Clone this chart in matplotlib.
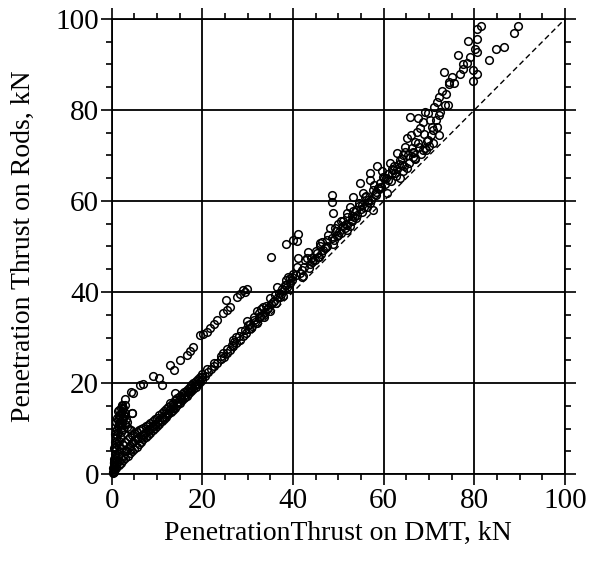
import matplotlib
matplotlib.use("Agg")
import matplotlib.pyplot as plt
from matplotlib.ticker import MultipleLocator

plt.rcParams['font.family'] = ['Liberation Serif', 'DejaVu Serif']

# ---- data ----
# near-origin vertical cluster
cluster_x = [0.3, 0.5, 0.4, 0.6, 0.5, 0.8, 0.7, 0.9, 0.8, 1.0, 1.1, 0.9, 1.2, 1.3, 1.1, 1.4, 1.5, 1.3,
             1.6, 1.8, 2.0, 2.2, 2.4, 2.6, 1.0, 1.2, 1.4, 1.6, 1.5, 1.7, 1.9, 2.0, 2.1, 2.3, 2.5, 2.8,
             3.0, 0.2, 0.3, 0.6, 1.8, 2.2, 0.7, 0.9, 1.0, 1.5, 2.0, 2.7, 3.1, 3.3, 4.5, 3.0, 2.3,
             0.4, 0.6, 0.8, 1.1, 1.3, 1.7, 2.4, 2.9, 3.4, 3.8, 4.2]
cluster_y = [0.5, 1.0, 1.8, 2.5, 3.2, 3.8, 4.5, 5.2, 6.0, 6.6, 7.3, 8.0, 8.6, 9.3, 10.0, 10.6, 11.2, 11.8,
             12.3, 12.8, 13.3, 13.8, 14.2, 14.6, 2.0, 3.0, 4.0, 5.0, 6.2, 7.2, 8.2, 9.2, 10.2, 11.2, 12.2, 12.8,
             13.5, 0.2, 1.4, 0.4, 10.8, 12.0, 7.0, 9.5, 11.5, 13.0, 14.5, 13.0, 12.0, 11.5, 13.3, 15.2, 15.0,
             2.6, 5.8, 8.8, 12.4, 13.9, 14.0, 9.8, 11.0, 10.4, 9.8, 9.6]

# lower (main) branch, 0-20 kN
low_x = [0.5, 1.0, 1.5, 2.0, 2.5, 3.0, 3.5, 4.0, 4.5, 5.0, 5.5, 6.0, 6.5, 7.0, 7.5, 8.0, 8.5, 9.0, 9.5, 10.0,
         10.5, 11.0, 11.5, 12.0, 12.5, 13.0, 13.5, 14.0, 14.5, 15.0, 15.5, 16.0, 16.5, 17.0, 17.5, 18.0,
         18.5, 19.0, 19.5, 20.0,
         0.5, 1.0, 1.5, 2.0, 2.5, 3.0, 3.5, 4.0, 4.5, 5.0, 5.5, 6.0, 6.5, 7.0, 7.5, 8.0, 8.5, 9.0, 9.5, 10.0,
         10.5, 11.0, 11.5, 12.0, 12.5, 13.0, 13.5, 14.0, 14.5, 15.0, 15.5, 16.0, 16.5, 17.0, 17.5, 18.0,
         18.5, 19.0, 19.5, 20.0,
         3.2, 3.8, 4.4, 5.2, 5.8, 6.6, 7.4, 8.2, 9.1, 10.2, 11.3, 12.4, 13.6, 14.8, 16.1, 17.3, 18.6,
         0.8, 1.6, 2.4, 3.2, 4.0, 4.8, 5.6, 6.4, 7.2, 8.0, 8.8, 9.6, 10.4, 11.2, 12.0, 12.8, 13.6, 14.4,
         15.2, 16.0, 16.8, 17.6, 18.4, 19.2, 20.0]
low_y = [0.7, 1.3, 1.9, 2.4, 3.0, 3.5, 4.0, 4.6, 5.0, 5.6, 6.0, 6.6, 7.1, 7.6, 8.1, 8.6, 9.1, 9.6, 10.1, 10.6,
         11.1, 11.6, 12.1, 12.6, 13.1, 13.6, 14.1, 14.6, 15.1, 15.6, 16.2, 16.7, 17.2, 17.7, 18.2, 18.7,
         19.2, 19.7, 20.2, 20.7,
         2.5, 3.5, 4.5, 5.5, 6.3, 7.0, 7.6, 8.2, 8.6, 9.0, 9.3, 9.6, 9.9, 10.2, 10.5, 10.8, 11.2, 11.6, 12.0, 12.4,
         12.9, 13.4, 13.8, 14.3, 14.8, 15.2, 15.7, 16.2, 16.6, 17.1, 17.6, 18.0, 18.5, 19.0, 19.5, 20.0,
         20.4, 20.9, 21.4, 21.9,
         5.0, 6.0, 6.8, 7.4, 8.0, 8.6, 9.0, 9.8, 10.5, 11.4, 12.4, 13.5, 14.6, 15.8, 17.0, 18.2, 19.5,
         1.8, 2.8, 4.2, 5.2, 6.2, 7.0, 7.6, 8.2, 8.9, 9.6, 10.3, 11.0, 11.8, 12.6, 13.4, 14.2, 15.0, 15.8,
         16.6, 17.4, 18.2, 19.0, 19.8, 20.6, 21.4]

# lower (main) branch, 20-40 kN
mid_x = [20.5, 21.2, 21.9, 22.6, 23.3, 24.0, 24.7, 25.4, 26.1, 26.8, 27.5, 28.2, 28.9, 29.6, 30.3, 31.0,
         31.7, 32.4, 33.1, 33.8, 34.5, 35.2, 35.9, 36.6, 37.3, 38.0, 38.7, 39.4,
         21.0, 22.5, 24.0, 25.5, 27.0, 28.0, 28.5, 29.5, 30.5, 31.5, 32.5, 33.0, 34.0, 35.0, 36.0, 36.5,
         37.5, 38.5, 39.0, 40.0, 24.5, 26.5, 30.0, 27.5, 32.0, 33.4, 37.1, 26.8, 29.8,
         30.8, 31.4, 32.1, 32.8, 33.5, 34.2, 34.9, 35.6, 36.3, 37.0, 37.7, 38.4, 39.1, 39.7]
mid_y = [21.6, 22.4, 23.0, 23.8, 24.5, 25.2, 25.8, 26.6, 27.3, 28.1, 28.8, 29.5, 30.3, 31.0, 31.8, 32.6,
         33.4, 34.2, 35.0, 35.7, 36.4, 37.3, 38.0, 38.9, 39.6, 40.4, 41.1, 41.9,
         23.0, 24.4, 25.9, 27.4, 29.0, 30.4, 31.4, 31.6, 33.0, 34.6, 35.4, 36.2, 37.0, 38.6, 39.4, 41.0,
         40.6, 42.6, 43.4, 44.0, 26.7, 28.4, 32.8, 30.2, 35.9, 36.8, 39.0, 29.5, 33.6,
         32.0, 33.8, 33.2, 34.8, 34.6, 36.2, 35.8, 37.8, 37.6, 39.8, 39.2, 41.6, 40.6, 43.4]

# upper branch (0-30 kN)
up_x = [2.3, 3.0, 4.8, 4.2, 6.2, 6.8, 4.5, 9.2, 10.5, 11.2, 12.9, 13.7, 15.1, 16.5, 18.0, 19.5, 20.2,
        21.7, 23.2, 24.6, 26.1, 27.6, 29.0, 29.8, 25.2, 14.0, 12.9, 17.2, 22.5, 28.3, 29.4, 21.0, 25.5]
up_y = [15.2, 16.5, 17.7, 18.1, 19.6, 19.8, 13.3, 21.6, 21.0, 19.6, 24.0, 22.9, 25.0, 26.2, 28.0, 30.5, 30.8,
        32.0, 33.8, 35.3, 36.8, 39.0, 40.4, 40.6, 38.2, 17.7, 15.5, 27.0, 33.0, 39.6, 40.0, 31.2, 36.0]

# 35-72 kN region
hi_x = [35.1, 38.5, 40.0, 41.1, 40.8, 48.5, 48.5, 48.9, 54.8, 57.0, 58.5, 62.9, 61.4, 59.2, 56.6, 55.2,
        53.3, 51.8, 52.9, 51.1, 48.2, 50.0, 47.4, 46.0, 45.2, 43.4, 42.6, 41.2, 40.8, 41.9, 39.3, 38.2,
        55.5, 57.7, 59.9, 60.7, 62.1, 63.6, 66.5, 68.7, 57.7, 54.0, 51.8, 46.7, 44.5,
        42.0, 43.8, 45.5, 47.0, 49.0, 50.5, 52.0, 53.5, 55.0, 56.5, 58.0, 59.5, 61.0, 62.5,
        44.0, 46.0, 49.5, 51.0, 53.0, 54.5, 56.0, 58.8, 60.0, 61.8, 64.5, 50.0, 52.5, 57.0,
        42.5, 43.0, 44.2, 45.0, 45.8, 46.5, 47.2, 47.8, 48.6, 49.2, 49.8, 50.6, 51.4, 52.0, 52.6, 53.2,
        53.9, 54.6, 55.3, 55.9, 56.4, 57.3, 57.9, 58.4, 59.0, 59.6, 60.3, 60.9, 61.6, 62.3, 62.8, 63.4,
        64.2, 64.8, 65.5, 66.2, 66.8, 67.5, 68.2, 69.0, 70.0, 70.8, 71.5, 72.5, 73.8, 75.5, 76.8, 77.5,
        39.8, 40.6, 41.5, 42.2, 43.5, 44.8, 46.2, 47.5, 48.8, 50.2, 51.6, 52.9, 54.2, 55.6, 57.0, 58.2,
        59.4, 60.6, 61.9, 63.0, 64.0, 65.3, 66.5, 67.8, 69.5, 70.4, 71.8]
hi_y = [47.8, 50.5, 51.4, 52.7, 51.1, 61.3, 59.8, 57.3, 63.9, 66.1, 67.7, 70.5, 68.3, 63.9, 60.2, 59.1,
        60.9, 57.3, 55.5, 54.4, 54.0, 52.5, 51.4, 50.0, 48.5, 48.9, 47.0, 47.4, 45.6, 43.4, 43.0, 41.5,
        61.7, 62.4, 65.3, 61.7, 66.8, 69.0, 69.7, 71.2, 58.0, 58.0, 53.6, 49.2, 47.0,
        44.8, 46.2, 47.8, 49.6, 51.5, 53.0, 54.8, 56.5, 58.2, 59.8, 61.5, 63.0, 64.6, 66.2,
        47.5, 50.8, 53.4, 55.6, 56.8, 58.8, 61.0, 62.8, 65.0, 67.0, 67.8, 55.0, 58.6, 64.6,
        45.5, 47.5, 46.5, 49.0, 47.8, 51.0, 49.8, 52.6, 51.8, 54.0, 52.2, 55.6, 54.0, 56.4, 54.6, 57.8,
        56.2, 59.6, 57.6, 60.8, 58.6, 60.2, 63.6, 61.4, 62.6, 66.5, 63.8, 66.0, 64.4, 67.6, 65.6, 68.2,
        66.6, 70.8, 68.4, 71.6, 69.2, 72.8, 70.4, 74.8, 72.0, 75.6, 77.8, 79.6, 83.5, 86.0, 88.0, 89.0,
        42.6, 43.8, 44.2, 43.5, 45.2, 47.0, 48.4, 50.2, 50.6, 53.2, 55.0, 55.8, 57.0, 58.6, 59.6, 62.0,
        63.0, 65.0, 66.2, 67.0, 69.2, 70.0, 70.6, 71.8, 73.2, 74.4, 76.2]

# 63-90 kN region
top_x = [81.4, 80.5, 89.6, 88.8, 86.6, 84.8, 83.3, 80.5, 78.5, 80.1, 80.6, 76.5, 77.6, 78.3, 79.0, 79.8,
         80.5, 79.6, 73.2, 75.0, 74.5, 74.4, 72.8, 72.3, 71.7, 74.1, 73.5, 69.1, 69.8, 65.7, 67.6, 72.3,
         68.7, 68.0, 70.6, 72.3, 65.1, 66.9, 69.8, 70.9, 64.7, 69.1, 69.3, 66.5, 64.3, 66.9, 64.0, 65.1, 63.6,
         71.0, 70.2, 67.3, 66.0]
top_y = [98.5, 97.8, 98.5, 96.9, 93.9, 93.4, 91.0, 95.6, 95.2, 93.4, 92.8, 92.1, 90.0, 90.3, 91.7, 88.8,
         87.8, 86.4, 88.4, 87.3, 86.2, 85.7, 84.2, 82.9, 81.8, 81.1, 81.0, 79.6, 79.3, 78.4, 78.2, 78.9,
         77.4, 76.0, 76.3, 74.4, 73.8, 73.0, 73.4, 72.7, 71.9, 71.6, 71.2, 70.8, 70.1, 69.4, 67.9, 67.2, 65.0,
         80.6, 77.8, 75.2, 74.6]

ref_x = [0, 100]
ref_y = [0, 100]

# ---- figure ----
fig = plt.figure(figsize=(5.92, 5.70), dpi=100)
ax = fig.add_axes([0.1887, 0.1684, 0.7657, 0.7983])

ax.plot(ref_x, ref_y, linestyle=(0, (4, 2.5)), color='black', lw=1.0, zorder=2)

all_x = cluster_x + low_x + mid_x + up_x + hi_x + top_x
all_y = cluster_y + low_y + mid_y + up_y + hi_y + top_y
ax.plot(all_x, all_y, linestyle='none', marker='o', ms=5.5, mfc='none', mec='black',
        mew=1.1, clip_on=False, zorder=3)

ax.set_xlim(0, 100)
ax.set_ylim(0, 100)
ax.xaxis.set_major_locator(MultipleLocator(20))
ax.yaxis.set_major_locator(MultipleLocator(20))
ax.xaxis.set_minor_locator(MultipleLocator(5))
ax.yaxis.set_minor_locator(MultipleLocator(5))
ax.grid(True, which='major', color='black', lw=1.3)
ax.set_axisbelow(True)
for s in ax.spines.values():
    s.set_linewidth(1.3)
ax.tick_params(which='both', direction='out', top=True, right=True, width=1.2,
               labelsize=21, colors='black')
ax.tick_params(which='major', length=8, pad=2)
ax.tick_params(which='minor', length=4.5)
ax.tick_params(axis='y', which='major', pad=1)

ax.set_xlabel('PenetrationThrust on DMT, kN', fontsize=20, labelpad=5)
ax.set_ylabel('Penetration Thrust on Rods, kN', fontsize=20, labelpad=14)

fig.savefig('out.png', dpi=100)
